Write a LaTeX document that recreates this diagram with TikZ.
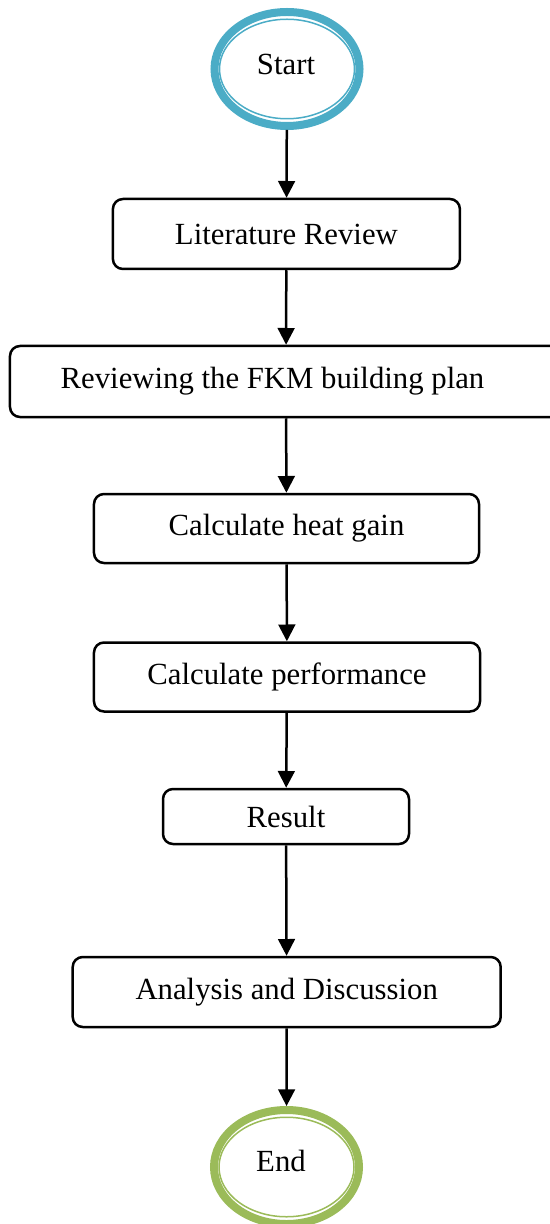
\documentclass[tikz,border=0pt]{standalone}
\usepackage{fontspec}
\setmainfont{Liberation Serif}
\usetikzlibrary{shapes.geometric,arrows.meta}
\definecolor{termblue}{HTML}{4BACC6}
\definecolor{termgreen}{HTML}{9BBB59}
\begin{document}
\begin{tikzpicture}[x=0.4pt,y=-0.4pt,
  every node/.style={font=\fontsize{12.3}{14}\selectfont, inner sep=0pt},
  stepbox/.style={draw, line width=1pt, rounded corners=4pt, align=center},
  term/.style={ellipse, draw, line width=3.2pt, minimum width=58pt, minimum height=45.6pt},
  termin/.style={line width=0.6pt},
  flow/.style={line width=1pt, -{Triangle[width=6.7pt,length=6.7pt]}}]
\useasboundingbox (0,0) rectangle (550,1224);
\node [term, draw=termblue] (start) at (287,69) {};
\draw [termin, termblue] (start.center) ellipse (27pt and 19.9pt);
\node at (286,64) (starttext) {Start};
\node [stepbox, minimum width=138.8pt, minimum height=28pt] (lit) at (286.4,234) {Literature Review};
\node [stepbox, minimum width=220.8pt, minimum height=28.4pt] (plan) at (286,381.5) {\hspace*{-10.8pt}Reviewing the FKM building plan};
\node [stepbox, minimum width=154pt, minimum height=27.6pt] (heat) at (286.5,528.5) {Calculate heat gain};
\node [stepbox, minimum width=154.4pt, minimum height=27.6pt] (perf) at (287,677) {Calculate performance};
\node [stepbox, minimum width=98.4pt, minimum height=22pt] (result) at (286,816.5) {Result};
\node [stepbox, minimum width=171.2pt, minimum height=28pt] (analysis) at (286.7,992) {Analysis and Discussion};
\node [term, draw=termgreen] (end) at (286.5,1167) {};
\draw [termin, termgreen] (end.center) ellipse (27pt and 19.9pt);
\node at (281,1161) (endtext) {End};
\draw [flow] (start) -- (lit);
\draw [flow] (lit) -- (plan);
\draw [flow] (plan) -- (heat);
\draw [flow] (heat) -- (perf);
\draw [flow] (perf) -- (result);
\draw [flow] (result) -- (analysis);
\draw [flow] (analysis) -- (end);
\end{tikzpicture}
\end{document}
